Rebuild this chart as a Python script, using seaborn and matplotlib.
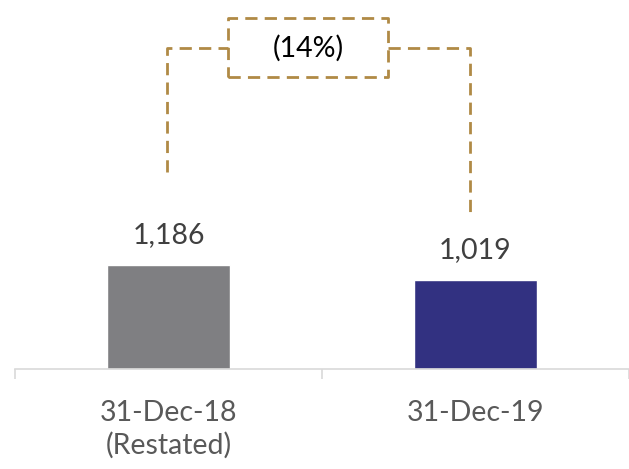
import matplotlib
matplotlib.use("Agg")
import matplotlib.pyplot as plt
import seaborn as sns
import pandas as pd

categories = ["31-Dec-18\n(Restated)", "31-Dec-19"]
values = [1186, 1019]
value_labels = ["1,186", "1,019"]
change_label = "(14%)"
bar_colors = ["#7F7F82", "#323181"]

sns.set_theme(style="white")
plt.rcParams["font.family"] = ["Lato", "DejaVu Sans"]

df = pd.DataFrame({"period": categories, "value": values})

fig = plt.figure(figsize=(6.29, 4.69), dpi=100)
ax = fig.add_axes([15 / 629, 100 / 469, 614 / 629, 369 / 469])

sns.barplot(data=df, x="period", y="value", hue="period", palette=bar_colors,
            width=0.4, saturation=1, legend=False, ax=ax)

ax.set_xlim(-0.5, 1.5)
ax.set_ylim(0, 4208)
ax.set_xlabel("")
ax.set_ylabel("")
ax.set_yticks([])
for side in ["left", "right", "top"]:
    ax.spines[side].set_visible(False)
ax.spines["bottom"].set_color("#D9D9D9")
ax.spines["bottom"].set_linewidth(1.2)

# category labels without ticks; boundary ticks as minor ticks
ax.set_xticks([0, 1])
ax.set_xticklabels(categories, fontsize=20.5, color="#595959", linespacing=1.3)
ax.tick_params(axis="x", which="major", length=0, pad=22)
ax.set_xticks([-0.5, 0.5, 1.5], minor=True)
ax.tick_params(axis="x", which="minor", length=7, width=1.2, color="#D9D9D9",
               direction="out", bottom=True)

# value labels above bars
for i, (v, lab) in enumerate(zip(values, value_labels)):
    ax.annotate(lab, xy=(i, v), xytext=(0, 12), textcoords="offset points",
                ha="center", va="bottom", fontsize=20.5, color="#404040")

# dashed change bracket
gold = "#B08A45"
dash_kw = dict(color=gold, lw=2.0, linestyle=(0, (4.4, 2.6)), clip_on=False,
               solid_capstyle="butt", dash_capstyle="butt")
bracket_y = 3661
box_left, box_right = 0.194, 0.715
box_bottom, box_top = 3330, 4003
ax.plot([-0.005, -0.005, box_left], [2247, bracket_y, bracket_y], **dash_kw)
ax.plot([box_right, 0.982, 0.982], [bracket_y, bracket_y, 1722], **dash_kw)
ax.plot([box_left, box_right, box_right, box_left, box_left],
        [box_bottom, box_bottom, box_top, box_top, box_bottom], **dash_kw)
ax.text((box_left + box_right) / 2, bracket_y, change_label, ha="center",
        va="center", fontsize=20.5, color="black")

fig.savefig("out.png", dpi=100)
